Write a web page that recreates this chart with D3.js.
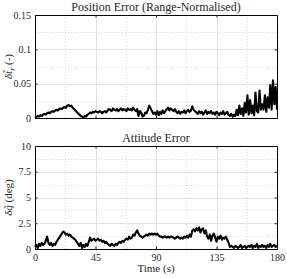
<!DOCTYPE html>
<html lang="en">
<head>
<meta charset="UTF-8">
<title>Position and Attitude Error</title>
<script src="https://d3js.org/d3.v7.min.js"></script>
<style>
    body { margin: 0; background: #fff; }
    svg { display: block; }
</style>
</head>
<body>
<svg id="chart" width="287" height="278"></svg>
<script>
// Sampled at 1 Hz, t = 0..180 s
const posError = [
    0.002,0.001,0.003,0.002,0.004,0.003,0.005,0.006,0.005,0.007,0.008,
    0.007,0.009,0.010,0.009,0.011,0.012,0.011,0.013,0.014,0.013,0.015,0.016,0.015,0.018,
    0.019,0.017,0.018,0.015,0.013,0.011,0.009,0.007,0.005,0.003,0.002,0.001,
    0.003,0.002,0.005,0.006,0.008,0.007,0.009,0.008,0.010,0.009,0.008,0.010,0.009,0.007,0.009,0.010,0.008,
    0.011,0.013,0.012,0.010,0.014,0.012,0.011,0.013,0.010,0.012,0.014,0.011,0.013,0.012,0.010,0.014,0.012,0.013,0.011,0.015,0.012,0.010,
    0.013,0.003,0.010,0.008,0.002,0.003,0.008,0.007,0.012,0.018,0.014,0.010,0.006,
    0.008,0.005,0.010,0.004,0.009,0.006,0.011,0.007,0.010,
    0.013,0.015,0.011,0.014,0.012,0.010,0.013,0.009,
    0.007,0.010,0.006,0.009,0.008,0.011,0.007,0.010,0.012,0.009,0.011,
    0.017,0.012,0.010,
    0.008,0.006,0.010,0.007,0.009,0.005,0.008,0.011,0.006,0.009,0.007,0.010,0.006,0.008,0.005,
    0.009,0.007,0.004,0.008,0.006,0.010,0.005,0.007,0.009,0.004,0.003,0.006,0.002,0.005,
    0.003,0.012,0.004,0.018,0.006,0.014,0.003,0.022,0.008,0.033,
    0.005,0.026,0.007,0.018,0.004,0.037,0.010,0.008,0.040,0.012,
    0.020,0.012,0.033,0.009,0.030,0.015,0.048,0.012,0.055,0.020,
    0.045,0.012
];

const attError = [
    0.2,0.4,0.1,0.5,0.3,0.6,0.4,0.5,0.8,1.2,0.6,
    0.4,0.6,0.3,0.5,0.4,0.7,0.9,
    1.1,1.3,1.5,1.7,1.6,1.4,1.5,
    1.3,1.4,1.2,1.1,1.0,0.9,
    0.7,0.5,0.3,0.6,0.1,0.4,0.2,0.5,0.3,0.7,
    1.1,0.8,0.9,1.0,0.8,0.9,1.0,
    0.8,0.9,0.7,0.8,0.6,0.7,0.5,0.4,0.3,0.5,
    0.4,0.3,0.5,0.4,0.6,0.7,0.6,0.8,0.7,0.9,
    1.0,0.9,1.2,1.0,1.1,1.4,1.3,1.6,1.8,
    1.5,1.3,1.2,1.1,1.2,1.3,1.4,1.3,1.5,1.4,1.5,
    1.4,1.5,1.4,1.5,1.3,1.2,
    1.2,1.1,1.2,1.2,1.1,1.2,1.1,1.2,1.2,1.1,1.0,1.1,1.2,1.1,1.0,1.1,1.0,1.2,1.1,1.3,1.1,1.4,1.2,
    1.8,1.9,1.7,2.0,1.8,2.1,1.6,1.9,2.0,1.5,1.8,1.2,
    1.0,1.4,0.8,1.3,1.5,1.1,0.7,1.2,1.0,1.3,0.9,1.1,
    1.0,1.2,0.9,0.6,0.2,0.3,
    0.2,0.1,0.3,0.2,0.1,0.2,0.4,0.1,0.2,0.3,0.1,0.2,0.3,0.2,0.4,0.1,0.3,
    0.2,0.5,0.1,0.3,0.2,0.4,0.2,0.3,0.1,0.4,0.2,0.5,0.2,0.3,0.4,0.2,0.3
];

const xTicks = [0, 45, 90, 135, 180];
const xMinor = [22.5, 67.5, 112.5, 157.5];
const posTicks = [0, 0.05, 0.1, 0.15];
const posMinor = [0.025, 0.075, 0.125];
const attTicks = [0, 2.5, 5, 7.5, 10];
const attMinor = [1.25, 3.75, 6.25, 8.75];

const FONT = 'Liberation Serif';
const INK = '#262626';

const svg = d3.select('#chart');
const left = 35, right = 277;

const x = d3.scaleLinear().domain([0, 180]).range([left, right]);

// only ever call this on <text> elements
function styleText(sel, size) {
    sel.attr('font-family', FONT).attr('font-size', size).attr('fill', INK);
}

function panel(cfg) {
    const y = d3.scaleLinear().domain(cfg.domain).range([cfg.bottom, cfg.top]);
    const g = svg.append('g');

    // grid
    g.selectAll('.vminor').data(xMinor).enter().append('line')
        .attr('x1', d => Math.round(x(d)) + 0.5).attr('x2', d => Math.round(x(d)) + 0.5)
        .attr('y1', cfg.top).attr('y2', cfg.bottom)
        .attr('stroke', '#bdbdbd').attr('stroke-width', 0.6).attr('stroke-dasharray', '1,2');
    g.selectAll('.hminor').data(cfg.minor).enter().append('line')
        .attr('y1', d => Math.round(y(d)) + 0.5).attr('y2', d => Math.round(y(d)) + 0.5)
        .attr('x1', left).attr('x2', right)
        .attr('stroke', '#bdbdbd').attr('stroke-width', 0.6).attr('stroke-dasharray', '1,2');
    g.selectAll('.vmajor').data(xTicks.slice(1, -1)).enter().append('line')
        .attr('x1', d => Math.round(x(d)) + 0.5).attr('x2', d => Math.round(x(d)) + 0.5)
        .attr('y1', cfg.top).attr('y2', cfg.bottom)
        .attr('stroke', '#e3e3e3').attr('stroke-width', 1);
    g.selectAll('.hmajor').data(cfg.ticks.slice(1, -1)).enter().append('line')
        .attr('y1', d => Math.round(y(d)) + 0.5).attr('y2', d => Math.round(y(d)) + 0.5)
        .attr('x1', left).attr('x2', right)
        .attr('stroke', '#e3e3e3').attr('stroke-width', 1);

    // data line
    g.append('path')
        .datum(cfg.values)
        .attr('fill', 'none')
        .attr('stroke', '#000')
        .attr('stroke-width', 2.1)
        .attr('stroke-linejoin', 'round')
        .attr('d', d3.line().x((d, i) => x(i)).y(d => y(d)));

    // axes (inward ticks, closed box)
    const ax = [
        g.append('g').attr('transform', `translate(${left},0)`)
            .call(d3.axisLeft(y).tickValues(cfg.ticks).tickSize(-2.5).tickPadding(4).tickFormat(d3.format(''))),
        g.append('g').attr('transform', `translate(${right},0)`)
            .call(d3.axisRight(y).tickValues(cfg.ticks).tickSize(-2.5).tickFormat('')),
        g.append('g').attr('transform', `translate(0,${cfg.bottom})`)
            .call(d3.axisBottom(x).tickValues(xTicks).tickSize(-2.5).tickPadding(5)
                .tickFormat(cfg.showX ? d3.format('') : '')),
        g.append('g').attr('transform', `translate(0,${cfg.top})`)
            .call(d3.axisTop(x).tickValues(xTicks).tickSize(-2.5).tickFormat(''))
    ];
    ax.forEach(a => {
        a.attr('font-family', FONT);
        styleText(a.selectAll('text'), 10);
    });
    g.selectAll('.domain').attr('stroke', '#000').attr('stroke-width', 1);
    g.selectAll('.tick line').attr('stroke', INK);

    g.append('text')
        .attr('x', (left + right) / 2).attr('y', cfg.top - 4)
        .attr('text-anchor', 'middle')
        .text(cfg.title)
        .call(styleText, 12);

    const yl = g.append('text')
        .attr('transform', `translate(12,${(cfg.top + cfg.bottom) / 2}) rotate(-90)`)
        .attr('text-anchor', 'middle')
        .call(styleText, 11);
    cfg.label(yl);
}

panel({
    top: 15, bottom: 118, domain: [0, 0.15],
    ticks: posTicks, minor: posMinor, values: posError,
    title: 'Position Error (Range-Normalised)', showX: false,
    label: t => {
        t.append('tspan').attr('font-style', 'italic').text('\u03b4t\u0303');
        t.append('tspan').attr('dy', 2.5).attr('font-size', 8).attr('font-style', 'italic').text('r');
        t.append('tspan').attr('dy', -2.5).text(' (-)');
    }
});

panel({
    top: 146, bottom: 249, domain: [0, 10],
    ticks: attTicks, minor: attMinor, values: attError,
    title: 'Attitude Error', showX: true,
    label: t => {
        t.append('tspan').attr('font-style', 'italic').text('\u03b4q\u0303');
        t.append('tspan').text(' (deg)');
    }
});

svg.append('text')
    .attr('x', (left + right) / 2).attr('y', 272)
    .attr('text-anchor', 'middle')
    .text('Time (s)')
    .call(styleText, 11);
</script>
</body>
</html>
